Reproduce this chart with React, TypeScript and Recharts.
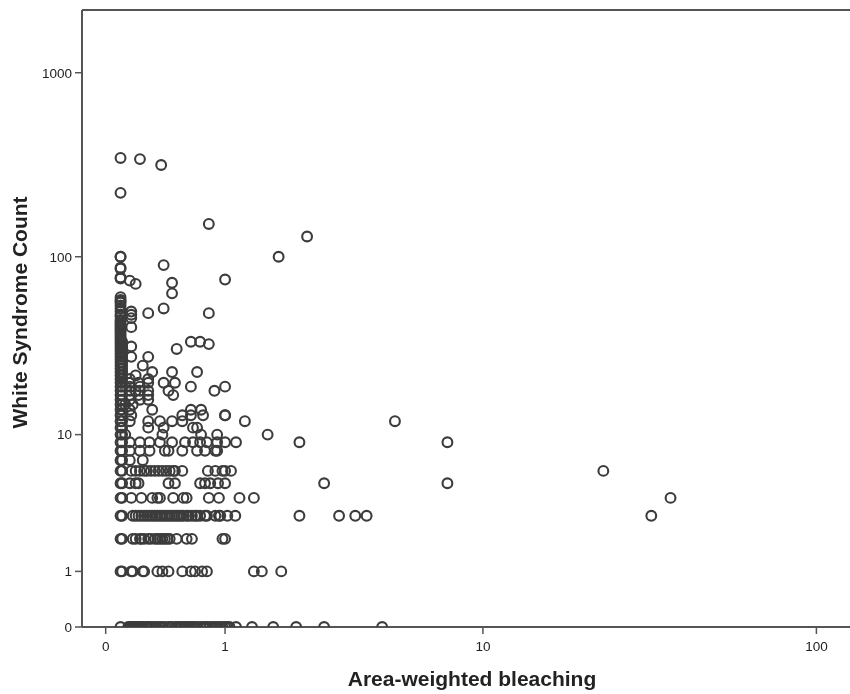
import React from "react";
import { ScatterChart, Scatter, XAxis, YAxis, ReferenceLine } from "recharts";

const xTickValues = [0, 1, 10, 100];
const yTickValues = [0, 1, 10, 100, 1000];
const xAnchorLogs = [0, 0.301, 1.041, 2.004];
const xAnchorUnits = [0, 119.3, 376.9, 710.3];

const at0 = [0.09, 0.14, 0.15, 0.16, 0.17, 0.18, 0.19, 0.2, 0.21, 0.22, 0.23, 0.24, 0.26, 0.27, 0.28, 0.29, 0.31, 0.33, 0.35, 0.37, 0.39, 0.41, 0.44, 0.45, 0.47, 0.5, 0.52, 0.54, 0.56, 0.58, 0.6, 0.62, 0.64, 0.66, 0.68, 0.7, 0.73, 0.76, 0.78, 0.8, 0.83, 0.86, 0.89, 0.91, 0.94, 0.97, 1.0, 1.03, 1.06, 1.15, 1.39, 1.75, 2.2, 2.85, 4.65];
const at1 = [0.09, 0.1, 0.16, 0.17, 0.24, 0.25, 0.35, 0.39, 0.44, 0.56, 0.64, 0.68, 0.75, 0.8, 1.42, 1.55, 1.9];
const at2 = [0.09, 0.1, 0.17, 0.19, 0.22, 0.23, 0.25, 0.28, 0.3, 0.33, 0.35, 0.37, 0.39, 0.41, 0.43, 0.45, 0.51, 0.6, 0.65, 0.97, 1.0];
const at3 = [0.09, 0.1, 0.17, 0.19, 0.21, 0.23, 0.25, 0.27, 0.29, 0.31, 0.33, 0.35, 0.37, 0.39, 0.41, 0.43, 0.45, 0.47, 0.49, 0.51, 0.53, 0.55, 0.57, 0.6, 0.62, 0.65, 0.68, 0.7, 0.73, 0.78, 0.8, 0.89, 0.93, 0.945, 1.03, 1.14, 2.27, 3.25, 3.73, 4.1, 32.7];
const at4 = [0.09, 0.1, 0.16, 0.23, 0.31, 0.35, 0.37, 0.48, 0.57, 0.6, 0.82, 0.93, 1.2, 1.42, 37.3];
const at5 = [0.09, 0.1, 0.15, 0.19, 0.21, 0.44, 0.495, 0.73, 0.78, 0.835, 0.92, 1.0, 2.85, 7.7];
const at6 = [0.09, 0.1, 0.16, 0.19, 0.22, 0.25, 0.27, 0.3, 0.33, 0.36, 0.39, 0.42, 0.45, 0.48, 0.495, 0.56, 0.81, 0.89, 0.97, 1.0, 1.08, 23.5];
const at7 = [0.09, 0.1, 0.15, 0.24];
const at8 = [0.09, 0.1, 0.15, 0.22, 0.29, 0.41, 0.44, 0.56, 0.7, 0.78, 0.89, 0.91];
const at9 = [0.09, 0.1, 0.15, 0.22, 0.29, 0.37, 0.47, 0.585, 0.66, 0.73, 0.8, 0.91, 1.0, 1.15, 2.27, 7.7];
const at10 = [0.09, 0.1, 0.12, 0.39, 0.74, 0.91, 1.65];
const at11 = [0.09, 0.1, 0.28, 0.4, 0.66, 0.7];
const at12 = [0.09, 0.1, 0.15, 0.28, 0.37, 0.47, 0.56, 1.28, 5.15];
const at13 = [0.09, 0.1, 0.16, 0.56, 0.64, 0.76, 1.0, 1.0];
const at14 = [0.09, 0.1, 0.15, 0.31, 0.64, 0.74];
const at15 = [0.09, 0.1, 0.12, 0.17];
const at16 = [0.09, 0.1, 0.15, 0.22, 0.28];
const at17 = [0.09, 0.1, 0.15, 0.21, 0.28, 0.48];
const at18 = [0.09, 0.1, 0.15, 0.19, 0.22, 0.28, 0.44, 0.88];
const at19 = [0.09, 0.1, 0.15, 0.22, 0.64, 1.0];
const at20 = [0.09, 0.1, 0.15, 0.21, 0.28, 0.4, 0.495];
const at21to60 = [
  [21, 0.09], [21, 0.1], [21, 0.15], [21, 0.28], [22, 0.09], [22, 0.1], [22, 0.19], [23, 0.09], [23, 0.1], [23, 0.31], [23, 0.47], [23, 0.7],
  [24, 0.09], [24, 0.1], [25, 0.09], [25, 0.1], [25, 0.24], [26, 0.09], [26, 0.1], [27, 0.09], [27, 0.1], [28, 0.09], [28, 0.1], [28, 0.16], [28, 0.28],
  [29, 0.09], [29, 0.1], [30, 0.09], [30, 0.1], [31, 0.09], [31, 0.1], [31, 0.51], [32, 0.09], [32, 0.1], [32, 0.16], [33, 0.09], [33, 0.1], [33, 0.82],
  [34, 0.09], [34, 0.1], [34, 0.64], [34, 0.73], [35, 0.09], [36, 0.09], [37, 0.09], [38, 0.09], [39, 0.09], [40, 0.09], [41, 0.09], [41, 0.16],
  [42, 0.09], [43, 0.09], [44, 0.09], [45, 0.09], [46, 0.16], [47, 0.09], [48, 0.09], [48, 0.16], [49, 0.28], [49, 0.82], [50, 0.09],
  [50, 0.16], [52, 0.09], [52, 0.4], [54, 0.09], [56, 0.09], [57, 0.09], [58, 0.09], [60, 0.09],
];
const highPoints = [
  [63, 0.47], [71, 0.19], [74, 0.15], [72, 0.47], [75, 1.0], [77, 0.09], [76, 0.09], [87, 0.09], [86, 0.09],
  [90, 0.4], [100, 0.09], [100, 0.09], [100, 1.85], [129, 2.44], [151, 0.82], [223, 0.09], [316, 0.38], [340, 0.22], [345, 0.09],
];

const rows: [number, number[]][] = [
  [0, at0], [1, at1], [2, at2], [3, at3], [4, at4], [5, at5], [6, at6], [7, at7], [8, at8], [9, at9], [10, at10],
  [11, at11], [12, at12], [13, at13], [14, at14], [15, at15], [16, at16], [17, at17], [18, at18], [19, at19], [20, at20],
];

const transformX = (v: number) => {
  const l = Math.log10(1 + v);
  let i = 0;
  while (i < xAnchorLogs.length - 2 && l > xAnchorLogs[i + 1]) i += 1;
  const f = (l - xAnchorLogs[i]) / (xAnchorLogs[i + 1] - xAnchorLogs[i]);
  return xAnchorUnits[i] + f * (xAnchorUnits[i + 1] - xAnchorUnits[i]);
};
const transformY = (v: number) => Math.log10(1 + v);

const points = [
  ...rows.flatMap(([count, xs]) => xs.map((x) => ({ x, count }))),
  ...[...at21to60, ...highPoints].map(([count, x]) => ({ x, count })),
].map((p) => ({ tx: transformX(p.x), ty: transformY(p.count) }));

const xTicks = xTickValues.map(transformX);
const yTicks = yTickValues.map(transformY);
const yMax = 3.34;
const axisColor = "#555";
const textColor = "#222";
const fontFamily = "'Liberation Sans', Arial, sans-serif";

const Ring = (props: any) => (
  <circle cx={props.cx} cy={props.cy} r={4.9} fill="none" stroke="#3c3c3c" strokeWidth={2.1} />
);

const xFormat = (v: number) => String(xTickValues[xTicks.findIndex((t) => Math.abs(t - v) < 1e-6)]);
const yFormat = (v: number) => String(yTickValues[yTicks.findIndex((t) => Math.abs(t - v) < 1e-6)]);

const tickStyle = { fontSize: 13.5, fill: textColor, fontFamily, fontWeight: 400 };

export default function App() {
  return (
    <div style={{ position: "absolute", left: 0, top: 0, width: 850, height: 694, overflow: "hidden", background: "#fff", filter: "blur(0.55px)" }}>
      <ScatterChart width={850} height={694} margin={{ top: 10, right: 0, bottom: 0, left: 0 }}>
        <XAxis
          type="number"
          dataKey="tx"
          domain={[-23.7, 744]}
          ticks={xTicks}
          tickFormatter={xFormat}
          interval={0}
          height={67}
          tickSize={7}
          tickMargin={7}
          allowDataOverflow
          tick={tickStyle}
          axisLine={{ stroke: axisColor, strokeWidth: 2 }}
          tickLine={{ stroke: axisColor, strokeWidth: 1.5 }}
          label={{ value: "Area-weighted bleaching", position: "insideBottom", offset: 8, dx: 6, style: { fontSize: 21, fontWeight: 700, fill: textColor, fontFamily } }}
        />
        <YAxis
          type="number"
          dataKey="ty"
          domain={[0, yMax]}
          ticks={yTicks}
          tickFormatter={yFormat}
          interval={0}
          width={82}
          tickSize={7}
          tickMargin={3}
          allowDataOverflow
          tick={tickStyle}
          axisLine={{ stroke: axisColor, strokeWidth: 2 }}
          tickLine={{ stroke: axisColor, strokeWidth: 1.5 }}
          label={{ value: "White Syndrome Count", angle: -90, position: "insideLeft", offset: 0, dx: 20, dy: -6, style: { fontSize: 21, fontWeight: 700, fill: textColor, fontFamily, textAnchor: "middle" } }}
        />
        <ReferenceLine y={yMax} stroke={axisColor} strokeWidth={2} ifOverflow="visible" />
        <Scatter data={points} shape={Ring} isAnimationActive={false} />
      </ScatterChart>
    </div>
  );
}
